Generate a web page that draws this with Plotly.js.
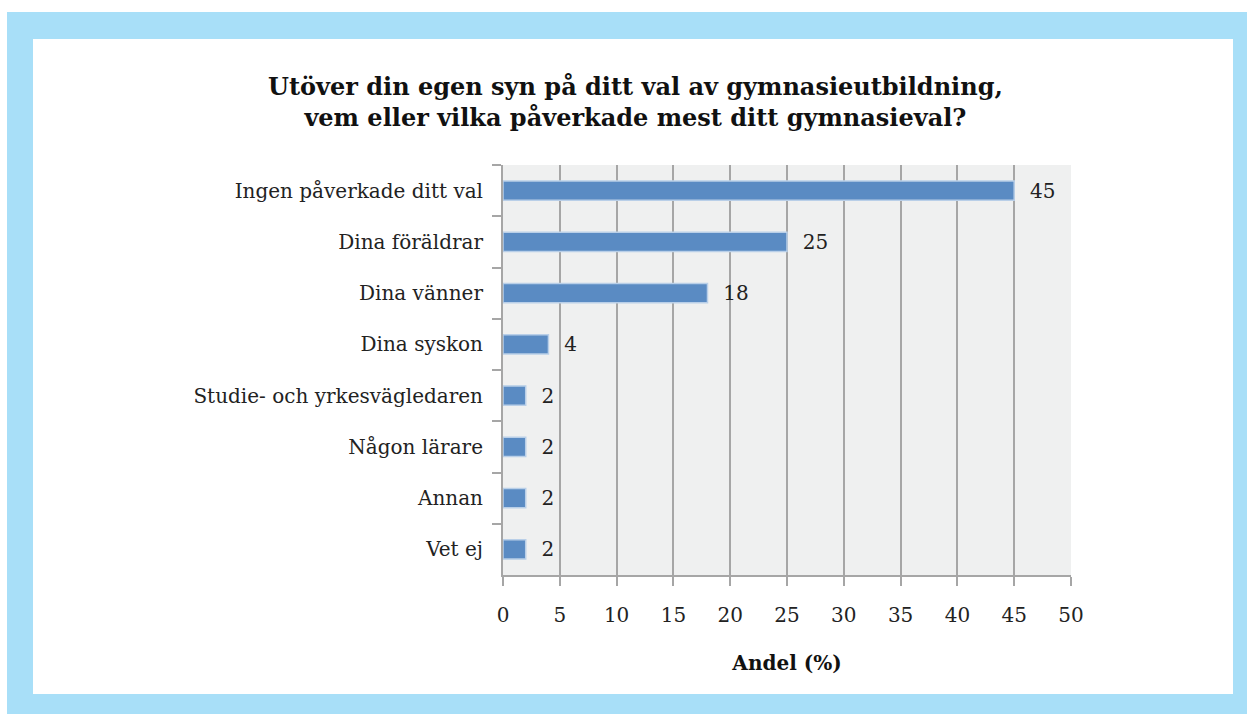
<!DOCTYPE html>
<html>
<head>
<meta charset="utf-8">
<script src="https://cdn.plot.ly/plotly-3.0.1.min.js"></script>
<style>
  body { margin: 0; background: #ffffff; width: 1247px; height: 714px; overflow: hidden; }
  #frame { position: absolute; left: 7px; top: 12px; width: 1240px; height: 702px; background: #a8dff8; }
  #myDiv { position: absolute; left: 33px; top: 39px; width: 1200px; height: 655px; }
</style>
</head>
<body>
<div id="frame"></div>
<div id="myDiv"></div>
<script>
// svar, andel i procent
var labels = [
  "Ingen påverkade ditt val",
  "Dina föräldrar",
  "Dina vänner",
  "Dina syskon",
  "Studie- och yrkesvägledaren",
  "Någon lärare",
  "Annan",
  "Vet ej",
];

var andel = [45, 25, 18, 4, 2, 2, 2, 2];

var xticks = [0, 5, 10, 15, 20, 25, 30, 35, 40, 45, 50];

var serif = "DejaVu Serif, Liberation Serif, serif";

var trace1 = {
  x: andel,
  y: labels,
  type: "bar",
  orientation: "h",
  // a little air between bar end and the number
  text: andel.map(function (v) { return "\u00a0\u00a0" + v; }),
  textposition: "outside",
  constraintext: "none",
  cliponaxis: false,
  hoverinfo: "none",
  textfont: { family: serif, size: 20, color: "#222222" },
  marker: {
    color: "#5a8bc3",
    line: {
      color: "#b9cfe8",
      width: 1.5,
    },
  },
};

var layout = {
  width: 1200,
  height: 655,
  margin: { l: 470, r: 162, t: 126, b: 119 },
  paper_bgcolor: "#ffffff",
  plot_bgcolor: "#eff0f0",
  showlegend: false,
  bargap: 0.62,
  font: { family: serif, size: 20, color: "#222222" },
  title: {
    text: "<b>Utöver din egen syn på ditt val av gymnasieutbildning,<br>vem eller vilka påverkade mest ditt gymnasieval?</b>",
    font: { family: serif, size: 24, color: "#111111" },
    xref: "container",
    x: 0.502,
    yref: "container",
    y: 0.915,
    yanchor: "top",
  },
  xaxis: {
    range: [0, 50],
    tickvals: xticks,
    ticktext: xticks.map(String),
    showgrid: true,
    gridcolor: "#a6a6a6",
    gridwidth: 2,
    zeroline: false,
    showline: true,
    linecolor: "#a6a6a6",
    linewidth: 2,
    ticks: "outside",
    ticklen: 9,
    tickwidth: 2,
    tickcolor: "#a6a6a6",
    ticklabelstandoff: 12,
    title: {
      text: "<b>Andel (%)</b>",
      font: { family: serif, size: 20, color: "#111111" },
      standoff: 30,
    },
  },
  yaxis: {
    type: "category",
    autorange: "reversed",
    showgrid: false,
    zeroline: false,
    showline: true,
    linecolor: "#a6a6a6",
    linewidth: 2,
    ticks: "outside",
    tickson: "boundaries",
    ticklen: 9,
    tickwidth: 2,
    tickcolor: "#a6a6a6",
    ticklabelstandoff: 14,
  },
};

var config = { displayModeBar: false, staticPlot: true };

Plotly.newPlot("myDiv", [trace1], layout, config);
</script>
</body>
</html>
